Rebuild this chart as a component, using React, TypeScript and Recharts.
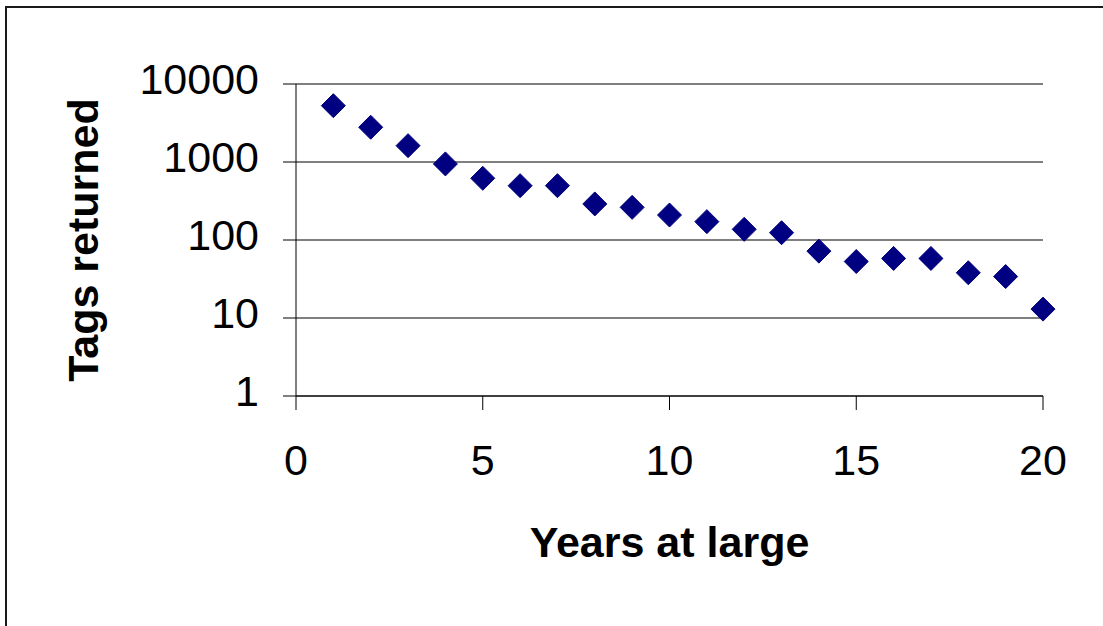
import { ScatterChart, Scatter, XAxis, YAxis, CartesianGrid } from "recharts";

const years = [1, 2, 3, 4, 5, 6, 7, 8, 9, 10, 11, 12, 13, 14, 15, 16, 17, 18, 19, 20];
const tagsReturned = [5270, 2790, 1620, 945, 618, 497, 497, 290, 262, 209, 172, 137, 124, 72, 53, 58, 58, 38, 34, 13];
const xTicks = [0, 5, 10, 15, 20];
const yTicks = [1, 10, 100, 1000, 10000];

const FONT = "'Liberation Sans', Arial, sans-serif";
const FONT_SIZE = 43;

const points = years.map((year, i) => ({ year, tags: tagsReturned[i] }));

function YTick(props: any) {
  const { x, y, payload } = props;
  return (
    <text x={x} y={y + 10} textAnchor="end" fontSize={FONT_SIZE} fontFamily={FONT} fill="#000">
      {payload.value}
    </text>
  );
}

// axis titles, placed inside the axis boxes recharts hands to the label
function XTitle(props: any) {
  const { viewBox } = props;
  const x = viewBox.x + viewBox.width / 2;
  return (
    <text x={x} y={viewBox.y + 161} textAnchor="middle" fontSize={FONT_SIZE} fontWeight="bold" fontFamily={FONT} fill="#000">
      Years at large
    </text>
  );
}

function YTitle(props: any) {
  const { viewBox } = props;
  const x = viewBox.x + 98;
  const y = viewBox.y + viewBox.height / 2;
  return (
    <text
      x={x}
      y={y}
      transform={`rotate(-90 ${x} ${y})`}
      textAnchor="middle"
      fontSize={FONT_SIZE}
      fontWeight="bold"
      fontFamily={FONT}
      fill="#000"
    >
      Tags returned
    </text>
  );
}

function Diamond(props: any) {
  const { cx, cy } = props;
  const r = 12;
  return (
    <path
      d={`M${cx} ${cy - r} L${cx + r} ${cy} L${cx} ${cy + r} L${cx - r} ${cy} Z`}
      fill="#000080"
      stroke="#000080"
      strokeWidth={1}
      strokeLinejoin="round"
    />
  );
}

export default function App() {
  return (
    <div
      style={{
        position: "absolute",
        left: 0,
        top: 0,
        width: 1103,
        height: 626,
        overflow: "hidden",
        background: "#fff",
      }}
    >
      <div
        style={{
          position: "absolute",
          left: 5,
          top: 6,
          width: 1200,
          height: 700,
          border: "2px solid #1a1a1a",
        }}
      />
      <div style={{ position: "absolute", left: 0, top: 0 }}>
        <ScatterChart width={1103} height={626} margin={{ top: 84, right: 60, bottom: 0, left: 0 }}>
          <CartesianGrid vertical={false} stroke="#555" strokeWidth={1.5} />
          <XAxis
            type="number"
            dataKey="year"
            domain={[0, 20]}
            ticks={xTicks}
            height={230}
            tickSize={14}
            tickMargin={34}
            stroke="#000"
            tick={{ fontSize: FONT_SIZE, fill: "#000", fontFamily: FONT }}
            label={<XTitle />}
          />
          <YAxis
            type="number"
            dataKey="tags"
            scale="log"
            domain={[1, 10000]}
            ticks={yTicks}
            allowDataOverflow
            width={296}
            tickSize={13}
            tickMargin={24}
            stroke="#000"
            tick={<YTick />}
            label={<YTitle />}
          />
          <Scatter data={points} shape={<Diamond />} isAnimationActive={false} />
        </ScatterChart>
      </div>
    </div>
  );
}
